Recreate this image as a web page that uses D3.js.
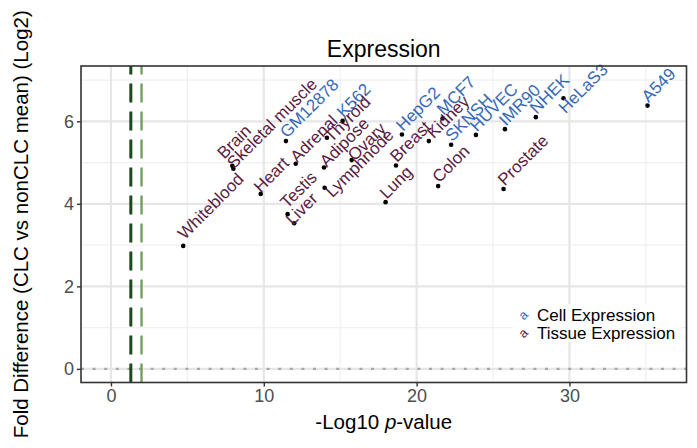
<!DOCTYPE html>
<html>
<head>
<meta charset="utf-8">
<script src="https://cdn.jsdelivr.net/npm/d3@7"></script>
<style>
body { margin: 0; background: #fff; }
text { font-family: "Liberation Sans", Arial, sans-serif; }
</style>
</head>
<body>
<svg></svg>
<script>
// values
var labels = ["Whiteblood", "Brain", "Skeletal muscle", "Heart", "GM12878", "Adrenal", "Testis", "Liver",
    "K562", "Thyroid", "Adipose", "Lymphnode", "Ovary", "Breast", "Lung", "HepG2", "Kidney", "MCF7",
    "Colon", "SKNSH", "HUVEC", "IMR90", "Prostate", "NHEK", "HeLaS3", "A549"];
var pValues = [4.73, 7.94, 8.01, 9.80, 11.45, 12.09, 11.56, 11.99, 15.16, 14.13, 13.94, 13.98, 15.75,
    18.65, 17.97, 19.04, 20.80, 21.70, 21.41, 22.26, 23.88, 25.78, 25.69, 27.80, 29.61, 35.11];
var foldDiffs = [2.98, 4.92, 4.85, 4.24, 5.52, 4.97, 3.75, 3.53, 6.01, 5.60, 4.88, 4.39, 5.06,
    4.93, 4.04, 5.68, 5.52, 6.07, 4.43, 5.43, 5.67, 5.81, 4.36, 6.10, 6.56, 6.38];
var groups = ["Tissue", "Tissue", "Tissue", "Tissue", "Cell", "Tissue", "Tissue", "Tissue",
    "Cell", "Tissue", "Tissue", "Tissue", "Tissue", "Tissue", "Tissue", "Cell", "Tissue", "Cell",
    "Tissue", "Cell", "Cell", "Cell", "Tissue", "Cell", "Cell", "Cell"];
var thresholds = [1.3, 2];          // -log10(0.05), -log10(0.01)
var xTicks = [0, 10, 20, 30];
var xMinor = [5, 15, 25, 35];
var yTicks = [0, 2, 4, 6];
var yMinor = [1, 3, 5, 7];
var legendGroups = ["Cell", "Tissue"];
var legendLabels = ["Cell Expression", "Tissue Expression"];

window.onload = function(){
    var svgCanvas = d3.select("svg")
        .attr("width", 697)
        .attr("height", 448);

    var left = 81, right = 686.5, top = 66, bottom = 382.5;

    var x = d3.scaleLinear().domain([-1.96, 37.66]).range([left, right]);
    var y = d3.scaleLinear().domain([-0.33, 7.34]).range([bottom, top]);
    var color = d3.scaleOrdinal().domain(["Cell", "Tissue"]).range(["#3669b5", "#5a1c42"]);

    var data = labels.map(function(l, i){
        return {label: l, p: pValues[i], fd: foldDiffs[i], group: groups[i]};
    });

    // panel grid
    var grid = svgCanvas.append("g");
    grid.selectAll(".vminor").data(xMinor).enter().append("line")
        .attr("x1", function(d){ return x(d); }).attr("x2", function(d){ return x(d); })
        .attr("y1", top).attr("y2", bottom)
        .attr("stroke", "#f0f0f0").attr("stroke-width", 1.2);
    grid.selectAll(".hminor").data(yMinor).enter().append("line")
        .attr("y1", function(d){ return y(d); }).attr("y2", function(d){ return y(d); })
        .attr("x1", left).attr("x2", right)
        .attr("stroke", "#f0f0f0").attr("stroke-width", 1.2);
    grid.selectAll(".vmajor").data(xTicks).enter().append("line")
        .attr("x1", function(d){ return x(d); }).attr("x2", function(d){ return x(d); })
        .attr("y1", top).attr("y2", bottom)
        .attr("stroke", "#e6e6e6").attr("stroke-width", 2.2);
    grid.selectAll(".hmajor").data(yTicks).enter().append("line")
        .attr("y1", function(d){ return y(d); }).attr("y2", function(d){ return y(d); })
        .attr("x1", left).attr("x2", right)
        .attr("stroke", "#e6e6e6").attr("stroke-width", 2.2);

    // zero line
    svgCanvas.append("line")
        .attr("x1", left).attr("x2", right)
        .attr("y1", y(0)).attr("y2", y(0))
        .attr("stroke", "#a6a6a6").attr("stroke-width", 2.4)
        .attr("stroke-dasharray", "3,8.6");

    // significance thresholds
    svgCanvas.selectAll(".thr").data(thresholds).enter().append("line")
        .attr("x1", function(d){ return x(d); }).attr("x2", function(d){ return x(d); })
        .attr("y1", bottom).attr("y2", top)
        .attr("stroke", function(d, i){ return i == 0 ? "#1b4a1d" : "#6d9b5c"; })
        .attr("stroke-width", function(d, i){ return i == 0 ? 3 : 2.3; })
        .attr("stroke-dasharray", "19,9");

    // points
    svgCanvas.selectAll("circle").data(data).enter().append("circle")
        .attr("cx", function(d){ return x(d.p); })
        .attr("cy", function(d){ return y(d.fd); })
        .attr("r", 2.3)
        .attr("fill", "#000");

    // labels at 45 degrees, pushed apart a little where they would collide
    // [along the text, across the text] in px
    var shift = {
        "Whiteblood": [5, -3], "Brain": [-1.5, -10], "Skeletal muscle": [0, 0.9], "Heart": [0.3, -0.3],
        "Adrenal": [1.4, 0.8], "Testis": [3.3, -3.8], "Liver": [-3, 0.8], "Thyroid": [-0.4, 7],
        "Adipose": [1.5, 2.3], "Ovary": [1, 3.5], "Lymphnode": [-2, 13], "Kidney": [4.9, 2.1],
        "HeLaS3": [-10, 12.7]
    };
    svgCanvas.selectAll(".lab").data(data).enter().append("text")
        .attr("transform", function(d){
            return "translate(" + x(d.p) + "," + y(d.fd) + ") rotate(-45)";
        })
        .attr("x", function(d){ return (shift[d.label] || [2.5, -1])[0]; })
        .attr("y", function(d){ return (shift[d.label] || [2.5, -1])[1]; })
        .attr("font-size", 17)
        .attr("fill", function(d){ return color(d.group); })
        .text(function(d){ return d.label; });

    // panel border
    svgCanvas.append("rect")
        .attr("x", left).attr("y", top)
        .attr("width", right - left).attr("height", bottom - top)
        .attr("fill", "none").attr("stroke", "#333").attr("stroke-width", 1.6);

    // axes
    var xAxis = svgCanvas.append("g")
        .attr("transform", "translate(0," + bottom + ")")
        .call(d3.axisBottom(x).tickValues(xTicks).tickSize(4).tickPadding(3));
    var yAxis = svgCanvas.append("g")
        .attr("transform", "translate(" + left + ",0)")
        .call(d3.axisLeft(y).tickValues(yTicks).tickSize(4).tickPadding(3));
    [xAxis, yAxis].forEach(function(a){
        a.select(".domain").remove();
        a.selectAll("line").attr("stroke", "#333").attr("stroke-width", 1.4);
        a.selectAll("text").attr("fill", "#4d4d4d").attr("font-size", 18)
            .attr("font-family", "Liberation Sans, Arial, sans-serif");
    });

    // titles
    svgCanvas.append("text")
        .attr("x", (left + right) / 2).attr("y", 57)
        .attr("text-anchor", "middle").attr("font-size", 23)
        .text("Expression");
    var xt = svgCanvas.append("text")
        .attr("x", (left + right) / 2).attr("y", 429)
        .attr("text-anchor", "middle").attr("font-size", 20.5);
    xt.append("tspan").text("-Log10 ");
    xt.append("tspan").attr("font-style", "italic").text("p");
    xt.append("tspan").text("-value");
    svgCanvas.append("text")
        .attr("transform", "translate(28," + (top + bottom) / 2 + ") rotate(-90)")
        .attr("text-anchor", "middle").attr("font-size", 20.5)
        .text("Fold Difference (CLC vs nonCLC mean) (Log2)");

    // legend
    var legend = svgCanvas.append("g");
    legend.append("rect")
        .attr("x", 513).attr("y", 304).attr("width", 168).attr("height", 38)
        .attr("fill", "#fff");
    var rows = legend.selectAll(".row").data(legendGroups).enter().append("g")
        .attr("transform", function(d, i){ return "translate(523," + (315 + i * 18) + ")"; });
    rows.append("text")
        .attr("transform", "rotate(-45)")
        .attr("text-anchor", "middle").attr("dominant-baseline", "central")
        .attr("font-size", 13)
        .attr("fill", function(d){ return color(d); })
        .text("a");
    rows.append("text")
        .attr("x", 14).attr("dominant-baseline", "central")
        .attr("font-size", 17)
        .text(function(d, i){ return legendLabels[i]; });
};
</script>
</body>
</html>
